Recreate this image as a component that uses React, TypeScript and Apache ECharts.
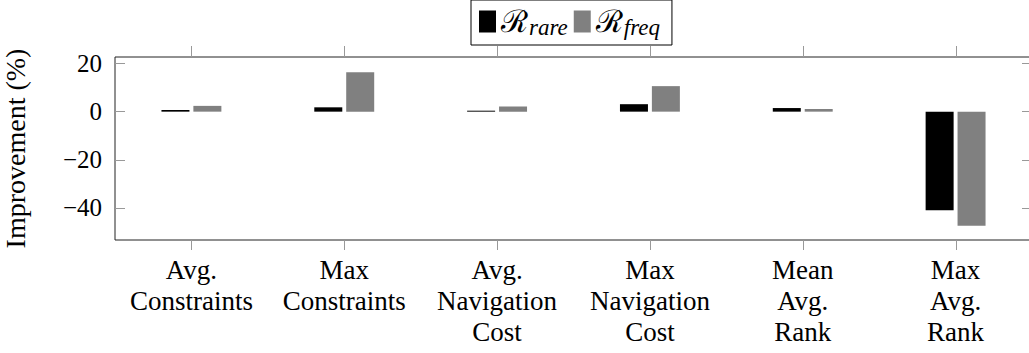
import React, { useEffect, useRef } from "react";
import * as echarts from "echarts";

const categories = [
  "Avg.\nConstraints",
  "Max\nConstraints",
  "Avg.\nNavigation\nCost",
  "Max\nNavigation\nCost",
  "Mean\nAvg.\nRank",
  "Max\nAvg.\nRank",
];
const rareValues = [0.7, 1.8, 0.4, 3.1, 1.5, -40.9];
const freqValues = [2.4, 16.4, 2.1, 10.6, 1.1, -47.4];
const yTicks = [-40, -20, 0, 20];
const seriesNames = ["rare", "freq"];

const FONT = "'Liberation Serif', 'DejaVu Serif', serif";

export default function App() {
  const ref = useRef<HTMLDivElement>(null);
  useEffect(() => {
    document.body.style.margin = "0";
    const chart = echarts.init(ref.current!, null, { renderer: "svg" });
    const yMin = -53.3;
    const yMax = 22.7;
    const fmt = (v: number) => (v < 0 ? "\u2212" + Math.abs(v) : String(v));
    const tickStyle = { color: "#999", width: 1 };
    chart.setOption({
      animation: false,
      textStyle: { fontFamily: FONT, color: "#000" },
      grid: {
        left: 115,
        right: -3,
        top: 57,
        bottom: 113,
        show: true,
        borderColor: "#222",
        borderWidth: 1,
        containLabel: false,
        outerBoundsMode: "none",
      },
      legend: {
        data: seriesNames,
        left: 471,
        top: 0,
        orient: "horizontal",
        itemWidth: 17,
        itemHeight: 22,
        itemGap: 6,
        padding: [6, 12, 6, 8],
        borderColor: "#000",
        borderWidth: 1,
        icon: "rect",
        formatter: (name: string) => `{r|\u211B}{s|${name}}`,
        textStyle: {
          rich: {
            r: { fontFamily: FONT, fontSize: 31, color: "#000" },
            s: {
              fontFamily: FONT,
              fontStyle: "italic",
              fontSize: 23,
              color: "#000",
              padding: [12, 0, 0, 1],
            },
          },
        },
      },
      xAxis: [
        {
          type: "category",
          data: categories,
          position: "bottom",
          axisLine: { show: false, onZero: false },
          axisTick: { show: false },
          axisLabel: {
            fontFamily: FONT,
            fontSize: 27,
            color: "#000",
            lineHeight: 31,
            margin: 14,
            interval: 0,
            align: "center",
          },
          splitLine: { show: false },
        },
      ],
      yAxis: [
        {
          type: "value",
          min: yMin,
          max: yMax,
          position: "left",
          name: "Improvement (%)",
          nameLocation: "middle",
          nameGap: 86,
          nameRotate: 90,
          nameTextStyle: { fontFamily: FONT, fontSize: 28, color: "#000" },
          axisLine: { show: false },
          axisTick: {
            show: true,
            inside: true,
            length: 10,
            customValues: yTicks,
            lineStyle: tickStyle,
          },
          axisLabel: {
            fontFamily: FONT,
            fontSize: 25,
            color: "#000",
            margin: 13,
            customValues: yTicks,
            formatter: fmt,
          },
          splitLine: { show: false },
        },
        {
          type: "value",
          min: yMin,
          max: yMax,
          position: "right",
          axisLine: { show: false },
          axisTick: {
            show: true,
            inside: true,
            length: 10,
            customValues: yTicks,
            lineStyle: tickStyle,
          },
          axisLabel: { show: false },
          splitLine: { show: false },
        },
      ],
      series: [
        {
          name: seriesNames[0],
          type: "bar",
          data: rareValues,
          barWidth: 28,
          barGap: "14%",
          itemStyle: { color: "#000" },
        },
        {
          name: seriesNames[1],
          type: "bar",
          data: freqValues,
          barWidth: 28,
          barGap: "14%",
          itemStyle: { color: "#808080" },
        },
        {
          name: "xticks",
          type: "custom",
          xAxisIndex: 0,
          yAxisIndex: 0,
          silent: true,
          clip: false,
          data: categories.map((_, i) => [i]),
          encode: { x: 0 },
          renderItem: (params: any, api: any) => {
            const x = Math.round(api.coord([api.value(0), 0])[0]) + 0.5;
            const cs = params.coordSys;
            const top = cs.y;
            const bottom = cs.y + cs.height;
            return {
              type: "group",
              children: [
                {
                  type: "line",
                  shape: { x1: x, y1: top - 11, x2: x, y2: top },
                  style: { stroke: "#999", lineWidth: 1 },
                },
                {
                  type: "line",
                  shape: { x1: x, y1: bottom, x2: x, y2: bottom + 10 },
                  style: { stroke: "#999", lineWidth: 1 },
                },
              ],
            };
          },
        },
      ],
    });
    return () => chart.dispose();
  }, []);
  return <div ref={ref} style={{ width: 1029, height: 353 }} />;
}
